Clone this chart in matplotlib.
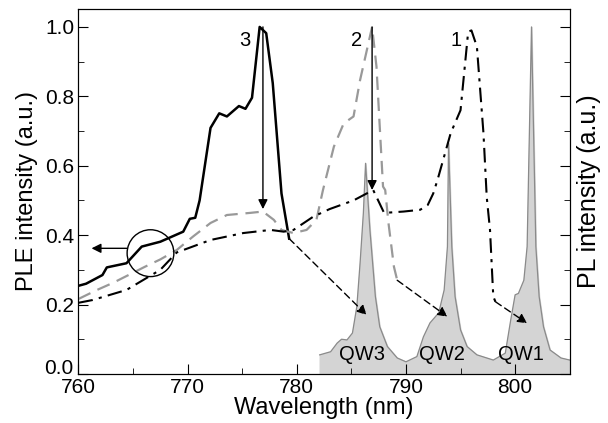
import matplotlib.pyplot as plt
from matplotlib.patches import Ellipse
from matplotlib.ticker import MultipleLocator, FuncFormatter
from matplotlib.transforms import ScaledTranslation

plt.rcParams["font.family"] = ["Liberation Sans", "DejaVu Sans"]

# PLE spectrum 3 (solid)
wl3 = [760.0, 760.7, 762.2, 762.6, 764.4, 765.8, 767.5, 769.6, 770.2, 770.7, 771.1,
       772.1, 772.9, 773.6, 774.7, 775.3, 775.9, 776.6, 777.2, 777.8, 778.6, 779.3]
ple3 = [0.254, 0.26, 0.285, 0.307, 0.319, 0.367, 0.381, 0.41, 0.447, 0.45, 0.50,
        0.709, 0.751, 0.742, 0.772, 0.764, 0.796, 1.0, 0.982, 0.838, 0.52, 0.39]

# PLE spectrum 2 (gray dashed)
wl2 = [760.0, 761.7, 763.2, 766.1, 767.5, 769.0, 770.5, 772.1, 773.6, 775.7, 776.9,
       777.9, 778.6, 779.7, 780.9, 781.8, 782.4, 783.4, 784.3, 785.2, 785.8, 786.9,
       787.3, 787.9, 788.1, 788.4, 788.9, 789.2]
ple2 = [0.216, 0.242, 0.263, 0.309, 0.33, 0.357, 0.396, 0.435, 0.458, 0.464, 0.468,
        0.444, 0.415, 0.406, 0.415, 0.444, 0.53, 0.655, 0.722, 0.742, 0.847, 1.0,
        0.886, 0.54, 0.53, 0.435, 0.309, 0.27]

# PLE spectrum 1 (dash-dot)
wl1 = [760.0, 761.3, 764.4, 767.5, 769.0, 772.1, 775.1, 777.6, 778.8, 779.7, 781.5,
       783.0, 785.2, 787.0, 788.0, 789.8, 791.3, 792.0, 792.5, 792.9, 794.1, 795.0,
       795.7, 796.0, 796.5, 797.1, 797.4, 797.7, 798.0, 798.2]
ple1 = [0.205, 0.213, 0.242, 0.30, 0.35, 0.386, 0.406, 0.415, 0.41, 0.415, 0.453,
        0.475, 0.50, 0.53, 0.464, 0.468, 0.473, 0.487, 0.52, 0.56, 0.694, 0.76,
        0.986, 0.99, 0.943, 0.694, 0.51, 0.415, 0.223, 0.208]

# PL spectrum (filled)
wl_pl = [782.1, 783.1, 783.7, 784.1, 784.6, 785.1, 785.5, 785.8, 786.1, 786.3, 786.7,
         787.2, 787.6, 788.3, 789.2, 790.0, 791.0, 791.6, 792.2, 793.0, 793.5, 793.8,
         793.9, 794.2, 794.5, 795.0, 795.6, 796.5, 798.0, 799.1, 799.6, 800.0, 800.3,
         800.8, 801.1, 801.5, 801.9, 802.2, 802.6, 803.2, 804.2, 805.0]
pl = [0.055, 0.064, 0.089, 0.10, 0.098, 0.118, 0.194, 0.32, 0.464, 0.607, 0.415,
      0.223, 0.136, 0.079, 0.046, 0.035, 0.05, 0.107, 0.147, 0.176, 0.242, 0.367,
      0.665, 0.367, 0.223, 0.127, 0.079, 0.055, 0.04, 0.06, 0.156, 0.228, 0.232,
      0.27, 0.367, 1.0, 0.367, 0.223, 0.136, 0.069, 0.046, 0.04]

qw_labels = ["QW3", "QW2", "QW1"]
qw_x = [786.0, 793.3, 800.5]
curve_labels = ["3", "2", "1"]
curve_label_x = [775.2, 785.5, 794.6]

fig = plt.figure(figsize=(6.08, 4.23), dpi=100)
ax = fig.add_axes([0.129, 0.116, 0.808, 0.863])

ax.fill_between(wl_pl, 0, pl, color="#d4d4d4", zorder=1)
ax.plot(wl_pl, pl, color="#8a8a8a", lw=0.9, zorder=1.5)

ax.plot(wl3, ple3, color="black", lw=1.8, zorder=3)
ax.plot(wl2, ple2, color="#999999", lw=1.6, ls=(0, (6, 3.5)), zorder=3)
ax.plot(wl1, ple1, color="black", lw=1.5, ls=(0, (7, 3, 1.5, 3)), zorder=3)

# vertical arrows from PLE peaks
ax.annotate("", xy=(776.9, 0.475), xytext=(776.9, 1.0),
            arrowprops=dict(arrowstyle="-|>", color="black", lw=1.0,
                            mutation_scale=14, shrinkA=0, shrinkB=0), zorder=4)
ax.annotate("", xy=(786.9, 0.53), xytext=(786.9, 1.0),
            arrowprops=dict(arrowstyle="-|>", color="black", lw=1.0,
                            mutation_scale=14, shrinkA=0, shrinkB=0), zorder=4)

# dashed arrows to PL peaks
for start, end in [((779.3, 0.39), (786.4, 0.17)),
                   ((789.2, 0.27), (793.8, 0.165)),
                   ((798.2, 0.208), (801.1, 0.146))]:
    ax.annotate("", xy=end, xytext=start,
                arrowprops=dict(arrowstyle="-|>", color="black", lw=1.0, ls=(0, (5, 3)),
                                mutation_scale=14, shrinkA=0, shrinkB=0), zorder=4)

# circle and left arrow
ax.add_patch(Ellipse((766.6, 0.348), 4.28, 0.135, fill=False, lw=1.0,
                     color="black", zorder=4))
ax.annotate("", xy=(761.2, 0.362), xytext=(764.45, 0.362),
            arrowprops=dict(arrowstyle="-|>", color="black", lw=1.0,
                            mutation_scale=14, shrinkA=0, shrinkB=0), zorder=4)

for lab, x in zip(curve_labels, curve_label_x):
    ax.text(x, 0.96, lab, fontsize=14.5, ha="center", va="center")
for lab, x in zip(qw_labels, qw_x):
    ax.text(x, 0.055, lab, fontsize=14.5, ha="center", va="center", zorder=5)

ax.set_xlim(760, 805)
ax.set_ylim(0, 1.052)
ax.xaxis.set_major_locator(MultipleLocator(10))
ax.xaxis.set_minor_locator(MultipleLocator(5))
ax.yaxis.set_major_locator(MultipleLocator(0.2))
ax.yaxis.set_minor_locator(MultipleLocator(0.1))
# "0.0" is drawn separately, a little above its tick as in the original
ax.yaxis.set_major_formatter(FuncFormatter(lambda v, p: "" if abs(v) < 1e-9 else f"{v:.1f}"))
ax.tick_params(which="both", direction="in", labelsize=15, top=False)
ax.tick_params(which="major", length=7)
ax.tick_params(which="minor", length=4.5)
ax.tick_params(axis="x", pad=3)
ax.tick_params(axis="y", pad=3)
ax.text(0, 0, "0.0", fontsize=15, ha="right", va="center",
        transform=ax.get_yaxis_transform() + ScaledTranslation(-3.5 / 72, 4 / 72, fig.dpi_scale_trans))
ax.set_xlabel("Wavelength (nm)", fontsize=17, labelpad=0)
ax.set_ylabel("PLE intensity (a.u.)", fontsize=17, labelpad=5)

ax2 = ax.twinx()
ax2.set_ylim(0, 1.052)
ax2.yaxis.set_major_locator(MultipleLocator(0.2))
ax2.yaxis.set_minor_locator(MultipleLocator(0.1))
ax2.tick_params(which="both", direction="in", labelright=False)
ax2.tick_params(which="major", length=7)
ax2.tick_params(which="minor", length=4.5)
ax2.set_ylabel("PL intensity (a.u.)", fontsize=18, labelpad=5)

fig.savefig("out.png", dpi=100)
